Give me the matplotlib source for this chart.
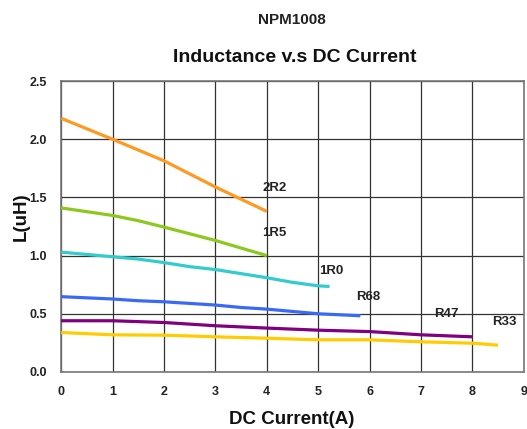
import matplotlib
matplotlib.use("Agg")
import matplotlib.pyplot as plt

plt.rcParams["font.family"] = ["Liberation Sans", "DejaVu Sans"]
plt.rcParams["font.weight"] = "bold"

# inductance curves (A, uH)
x_2r2 = [0, 1, 2, 3, 4]
l_2r2 = [2.18, 2.00, 1.815, 1.59, 1.38]

x_1r5 = [0, 1, 1.5, 2, 3, 3.5, 4]
l_1r5 = [1.41, 1.345, 1.30, 1.245, 1.13, 1.065, 1.00]

x_1r0 = [0, 1, 1.5, 2, 2.5, 3, 4, 4.5, 5, 5.22]
l_1r0 = [1.03, 0.99, 0.97, 0.94, 0.905, 0.88, 0.81, 0.77, 0.74, 0.735]

x_r68 = [0, 1, 1.5, 2, 2.5, 3, 3.5, 4, 4.5, 5, 5.82]
l_r68 = [0.647, 0.627, 0.612, 0.603, 0.589, 0.575, 0.554, 0.54, 0.52, 0.50, 0.483]

x_r47 = [0, 1, 2, 3, 4, 5, 6, 7, 8]
l_r47 = [0.44, 0.44, 0.425, 0.397, 0.377, 0.359, 0.347, 0.319, 0.302]

x_r33 = [0, 1, 2, 3, 4, 5, 6, 7, 8, 8.5]
l_r33 = [0.339, 0.319, 0.316, 0.302, 0.29, 0.276, 0.276, 0.259, 0.247, 0.23]

names = ["2R2", "1R5", "1R0", "R68", "R47", "R33"]
xs = [x_2r2, x_1r5, x_1r0, x_r68, x_r47, x_r33]
ls = [l_2r2, l_1r5, l_1r0, l_r68, l_r47, l_r33]

colors = ["#FF9922", "#8DC81E", "#33CCCC", "#3A6AF5", "#800080", "#FFCC00"]
label_pos = [(4.15, 1.58), (4.15, 1.19), (5.25, 0.87),
             (5.98, 0.647), (7.5, 0.497), (8.62, 0.428)]

fig = plt.figure(figsize=(5.27, 4.29), dpi=100)
ax = fig.add_axes([0.116, 0.133, 0.878, 0.678])

for x, l, c in zip(xs, ls, colors):
    ax.plot(x, l, color=c, lw=2.3, solid_capstyle="butt", zorder=3)
for name, (lx, ly) in zip(names, label_pos):
    ax.text(lx, ly, name, ha="center", va="center", fontsize=9.5,
            fontweight="bold", color="#222222", zorder=4)

ax.set_xlim(0, 9)
ax.set_ylim(0, 2.5)
ax.set_xticks(range(10))
ax.set_yticks([0, 0.5, 1.0, 1.5, 2.0, 2.5])
ax.set_yticklabels(["0.0", "0.5", "1.0", "1.5", "2.0", "2.5"])
ax.grid(True, color="#333333", lw=0.9)
ax.tick_params(length=0, labelsize=9, colors="#222222")
ax.tick_params(axis="x", pad=10)
ax.tick_params(axis="y", pad=10)
for lab in ax.get_xticklabels() + ax.get_yticklabels():
    lab.set_fontweight("bold")
for s in ax.spines.values():
    s.set_color("#777777")
    s.set_linewidth(1.2)

fig.text(0.554, 0.022, "DC Current(A)", ha="center", va="center",
         fontsize=13.5, fontweight="bold", color="#111111")
fig.text(0.04, 0.495, "L(uH)", ha="center", va="center", rotation=90,
         fontsize=13.5, fontweight="bold", color="#111111")

fig.text(0.554, 0.953, "NPM1008", ha="center", va="center",
         fontsize=11, fontweight="bold", color="#222222")
fig.text(0.56, 0.867, "Inductance v.s DC Current", ha="center", va="center",
         fontsize=14, fontweight="bold", color="#111111")

fig.savefig("out.png", dpi=100)
